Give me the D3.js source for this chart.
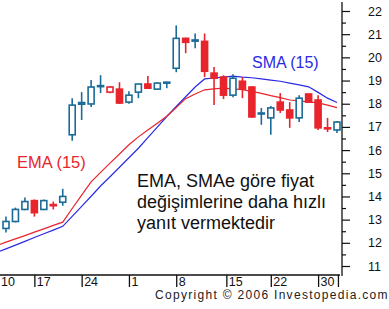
<!DOCTYPE html>
<html>
<head>
<meta charset="utf-8">
<script src="https://cdn.jsdelivr.net/npm/d3@7"></script>
<style>
  body { margin: 0; background: #fff; }
  svg { display: block; font-family: "Liberation Sans", Arial, sans-serif; }
</style>
</head>
<body>
<div id="chart"></div>
<script>
// price data, one entry per trading day
var opens  = [12.62, 12.92, 13.44, 13.82, 13.44, 13.65, 13.75, 16.66, 17.98, 17.99, 18.74, 18.50,
              18.63, 18.07, 18.50, 18.85, 18.63, 18.90, 19.53, 20.82, 20.70, 20.69, 19.32, 19.15,
              18.37, 18.97, 18.72, 17.57, 17.39, 18.07, 17.73, 17.39, 18.42, 18.16, 16.96, 16.87];
var highs  = [13.13, 13.52, 13.95, 13.87, 13.87, 13.78, 14.33, 18.24, 18.50, 19.02, 19.23, 18.75,
              18.93, 18.54, 18.85, 19.20, 18.92, 18.93, 21.38, 20.85, 21.03, 21.03, 19.58, 19.23,
              19.27, 19.15, 18.75, 17.82, 17.90, 18.46, 18.07, 18.37, 18.42, 18.37, 17.39, 17.26];
var lows   = [12.45, 12.88, 13.40, 13.13, 13.40, 13.44, 13.60, 16.40, 17.30, 17.86, 18.46, 18.45,
              17.99, 18.00, 18.24, 18.65, 18.60, 18.67, 19.36, 20.18, 20.39, 19.15, 17.94, 18.20,
              18.28, 18.24, 17.40, 17.09, 16.66, 17.60, 16.96, 17.21, 18.03, 16.87, 16.78, 16.74];
var closes = [12.92, 13.44, 13.78, 13.30, 13.82, 13.60, 14.00, 17.94, 18.05, 18.72, 18.78, 18.72,
              18.03, 18.37, 18.85, 18.67, 18.89, 18.93, 20.82, 20.65, 20.75, 19.40, 19.10, 18.37,
              19.10, 18.63, 17.43, 17.60, 17.82, 17.73, 17.39, 18.24, 18.07, 16.96, 16.92, 17.21];

// moving averages, first value belongs to the day before the first candle
var emaValues = [11.88, 12.03, 12.17, 12.31, 12.46, 12.60, 12.75, 12.89, 13.48, 14.06, 14.63, 15.04,
                 15.44, 15.83, 16.23, 16.57, 16.87, 17.16, 17.46, 17.83, 18.22, 18.42, 18.60, 18.64,
                 18.67, 18.64, 18.61, 18.53, 18.45, 18.35, 18.26, 18.16, 18.12, 18.08, 18.04, 17.94, 17.83];
var smaValues = [11.58, 11.74, 11.90, 12.06, 12.23, 12.39, 12.55, 12.71, 13.14, 13.57, 14.01, 14.45,
                 14.85, 15.26, 15.67, 16.08, 16.54, 16.99, 17.45, 17.88, 18.30, 18.72, 19.07, 19.11,
                 19.15, 19.19, 19.15, 19.12, 19.07, 19.02, 18.97, 18.89, 18.81, 18.73, 18.49, 18.24, 18.05];

// x axis date labels and the day index they sit on
var dateLabels = ["10", "17", "24", "1", "8", "15", "22", "30", ""];
var dateIndex  = [-0.8, 3, 8, 13, 18, 23.3, 28, 33, 35.1];

var yTicks = [11, 12, 13, 14, 15, 16, 17, 18, 19, 20, 21, 22];

var blue = "#1b6b98", red = "#e8242c";

var width = 389, height = 309;

var svg = d3.select("#chart").append("svg")
    .attr("width", width)
    .attr("height", height);

var x = d3.scaleLinear().domain([0, closes.length - 1]).range([6, 337]);
var y = d3.scaleLinear().domain([11, 22]).range([266, 11]);

// y axis on the right
var yAxis = svg.append("g")
    .attr("transform", "translate(342,0)")
    .call(d3.axisRight(y).tickValues(yTicks).tickSize(8).tickPadding(18).tickSizeOuter(0));
yAxis.select(".domain").remove();
yAxis.selectAll("line").attr("stroke", "#111").attr("stroke-width", 1.2);
yAxis.selectAll("text")
    .attr("font-size", 12.5)
    .attr("fill", "#111")
    .attr("font-family", "'Liberation Sans', Arial, sans-serif");

// minor ticks on the half units
var yMinor = svg.append("g")
    .attr("transform", "translate(342,0)")
    .call(d3.axisRight(y).tickValues(d3.range(11.5, 22, 1)).tickSize(4).tickFormat(""));
yMinor.select(".domain").remove();
yMinor.selectAll("line").attr("stroke", "#111").attr("stroke-width", 1.2);

svg.append("line")
    .attr("x1", 342).attr("x2", 342)
    .attr("y1", y(22) - 9).attr("y2", y(11) + 10)
    .attr("stroke", "#111").attr("stroke-width", 1.3);

// x axis along the bottom
var xAxis = svg.append("g")
    .attr("transform", "translate(0,275)")
    .call(d3.axisBottom(x).tickValues(dateIndex).tickSize(12).tickPadding(-10).tickSizeOuter(0)
      .tickFormat(function(d, i) { return dateLabels[i]; }));
xAxis.select(".domain").remove();
xAxis.selectAll("line").attr("stroke", "#111").attr("stroke-width", 1.3);
xAxis.selectAll("text")
    .attr("text-anchor", "start")
    .attr("x", 2)
    .attr("font-size", 12.5)
    .attr("fill", "#111")
    .attr("font-family", "'Liberation Sans', Arial, sans-serif");

svg.append("line")
    .attr("x1", 0).attr("x2", 340)
    .attr("y1", 275).attr("y2", 275)
    .attr("stroke", "#111").attr("stroke-width", 1.3);

// moving average lines
var maLine = d3.line()
    .x(function(d, i) { return x(i - 1); })
    .y(function(d) { return y(d); });

svg.append("path")
    .datum(smaValues)
    .attr("d", maLine)
    .attr("fill", "none")
    .attr("stroke", "#2a2ae6")
    .attr("stroke-width", 1.2);

svg.append("path")
    .datum(emaValues)
    .attr("d", maLine)
    .attr("fill", "none")
    .attr("stroke", "#e8242c")
    .attr("stroke-width", 1.2);

// candles: red when close is below the previous close, filled when close < open
var candles = svg.append("g").selectAll("g")
    .data(closes)
    .enter()
    .append("g");

function candleColor(d, i) {
  return (i > 0 && closes[i] < closes[i - 1]) ? red : blue;
}

candles.append("line")
    .attr("x1", function(d, i) { return x(i); })
    .attr("x2", function(d, i) { return x(i); })
    .attr("y1", function(d, i) { return y(highs[i]); })
    .attr("y2", function(d, i) { return y(lows[i]); })
    .attr("stroke", candleColor)
    .attr("stroke-width", 1.6);

candles.append("rect")
    .attr("x", function(d, i) { return x(i) - 3; })
    .attr("width", 6)
    .attr("y", function(d, i) { return y(Math.max(opens[i], closes[i])); })
    .attr("height", function(d, i) { return Math.max(1, Math.abs(y(opens[i]) - y(closes[i]))); })
    .attr("fill", function(d, i) { return closes[i] < opens[i] ? candleColor(d, i) : "#fff"; })
    .attr("stroke", candleColor)
    .attr("stroke-width", 1.6);

// labels
svg.append("text")
    .attr("x", 252).attr("y", 68)
    .attr("font-size", 16)
    .attr("fill", "#2a2ae6")
    .text("SMA (15)");

svg.append("text")
    .attr("x", 17).attr("y", 168)
    .attr("font-size", 16.5)
    .attr("fill", "#e8242c")
    .text("EMA (15)");

var note = ["EMA, SMAe göre fiyat", "değişimlerine daha hızlı", "yanıt vermektedir"];
svg.append("g").selectAll("text")
    .data(note)
    .enter()
    .append("text")
    .attr("x", 137)
    .attr("y", function(d, i) { return 187 + i * 21; })
    .attr("font-size", 18)
    .attr("fill", "#111")
    .text(function(d) { return d; });

svg.append("text")
    .attr("x", 155).attr("y", 299)
    .attr("font-size", 12)
    .attr("letter-spacing", 1.3)
    .attr("fill", "#222")
    .text("Copyright © 2006 Investopedia.com");
</script>
</body>
</html>
